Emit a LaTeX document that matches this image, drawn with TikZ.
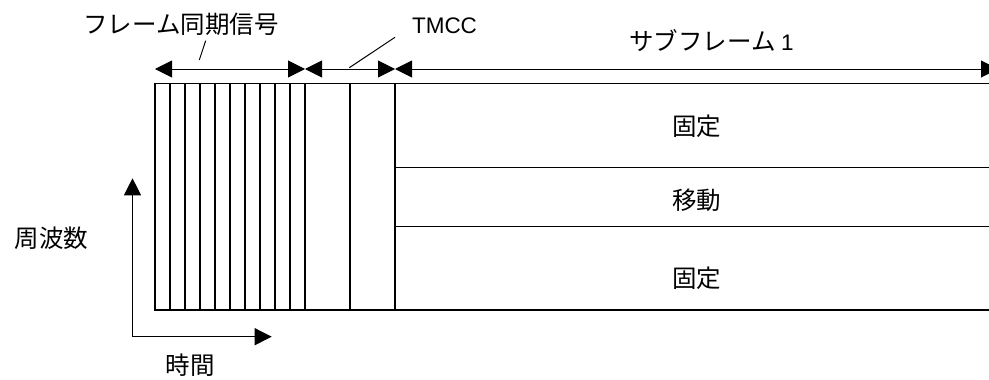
\documentclass[tikz,border=0pt]{standalone}
\usepackage{fontspec}
\usetikzlibrary{arrows.meta}
\newfontfamily\jfont{Noto Sans CJK JP}
\setmainfont{Liberation Sans}
\begin{document}
\begin{tikzpicture}[x=1pt,y=-1pt,
  grid/.style={line width=1.1pt,black},
  dimarrow/.style={line width=1pt,{Triangle[length=17pt,width=17pt]}-{Triangle[length=17pt,width=17pt]}},
  axarrow/.style={line width=1pt,-{Triangle[length=17pt,width=17pt]}},
  jlabel/.style={inner sep=0pt,font=\jfont\fontsize{24.5}{28}\selectfont},
  llabel/.style={inner sep=0pt,font=\fontsize{22.5}{26}\selectfont}]
\useasboundingbox (0,0) rectangle (989,380);
% frame
\draw[grid] (989,83.3) -- (155,83.3) -- (155,310) -- (989,310);
\foreach \x in {170,185,...,290,305,350,395}
  \draw[grid] (\x,83.3) -- (\x,310);
\draw[grid] (395,167.3) -- (989,167.3);
\draw[grid] (395,226.7) -- (989,226.7);
% dimension coordinates
\coordinate (a0) at (155,69);
\coordinate (a1) at (305,69);
\coordinate (a2) at (395,69);
\coordinate (a3) at (998,69);
\draw[dimarrow] (a0) -- (a1);
\draw[dimarrow] (a1) -- (a2);
\draw[dimarrow] (a2) -- (a3);
% labels
\node[jlabel] (sync) at (181,24.5) {フレーム同期信号};
\node[llabel] (tmcc) at (444.5,25.5) {TMCC};
\node[jlabel] (sub) at (711.5,41) {サブフレーム {\fontspec{Liberation Sans}\fontsize{22.5}{26}\selectfont 1}};
\coordinate (s1) at (205.7,40.7);
\coordinate (s2) at (199.3,60);
\draw[line width=1pt] (s1) -- (s2);
\coordinate (t1) at (395,37.3);
\coordinate (t2) at (349.3,67.7);
\draw[line width=1pt] (t1) -- (t2);
\node[jlabel] (fix1) at (696.7,126) {固定};
\node[jlabel] (mov) at (696.7,200) {移動};
\node[jlabel] (fix2) at (696.7,278) {固定};
% axes
\coordinate (o) at (132.5,336.7);
\coordinate (up) at (132.5,178.3);
\coordinate (rt) at (271.7,336.7);
\draw[axarrow] (o) -- (up);
\draw[axarrow] (o) -- (rt);
\node[jlabel] (freq) at (51.3,238.3) {周波数};
\node[jlabel] (time) at (190,365) {時間};
\end{tikzpicture}
\end{document}
